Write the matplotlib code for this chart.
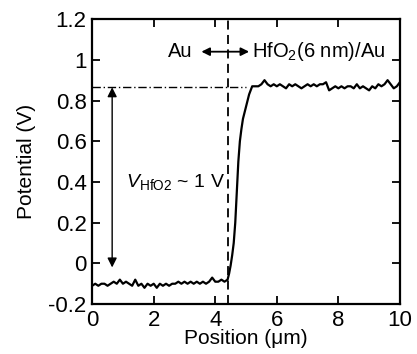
import matplotlib
matplotlib.use("Agg")
import matplotlib.pyplot as plt

plt.rcParams['font.family'] = ['Liberation Sans', 'DejaVu Sans']
plt.rcParams['mathtext.fontset'] = 'custom'
plt.rcParams['mathtext.rm'] = 'Liberation Sans'
plt.rcParams['mathtext.it'] = 'Liberation Sans:italic'

# potential profile
pos = [0.0, 0.1, 0.2, 0.3, 0.4, 0.5, 0.6, 0.7, 0.8, 0.9,
       1.0, 1.1, 1.2, 1.3, 1.4, 1.5, 1.6, 1.7, 1.8, 1.9,
       2.0, 2.1, 2.2, 2.3, 2.4, 2.5, 2.6, 2.7, 2.8, 2.9,
       3.0, 3.1, 3.2, 3.3, 3.4, 3.5, 3.6, 3.7, 3.8, 3.9,
       4.0, 4.1, 4.2, 4.3, 4.4, 4.45, 4.5, 4.55, 4.6, 4.65,
       4.7, 4.75, 4.8, 4.85, 4.9, 5.0, 5.1, 5.2, 5.3, 5.4,
       5.5, 5.6, 5.7, 5.8, 5.9, 6.0, 6.1, 6.2, 6.3, 6.4,
       6.5, 6.6, 6.7, 6.8, 6.9, 7.0, 7.1, 7.2, 7.3, 7.4,
       7.5, 7.6, 7.7, 7.8, 7.9, 8.0, 8.1, 8.2, 8.3, 8.4,
       8.5, 8.6, 8.7, 8.8, 8.9, 9.0, 9.1, 9.2, 9.3, 9.4,
       9.5, 9.6, 9.7, 9.8, 9.9, 10.0]
pot = [-0.11, -0.10, -0.11, -0.10, -0.10, -0.11, -0.10, -0.09, -0.10, -0.08,
       -0.10, -0.09, -0.10, -0.11, -0.08, -0.11, -0.10, -0.12, -0.10, -0.11,
       -0.10, -0.12, -0.10, -0.11, -0.10, -0.11, -0.10, -0.10, -0.09, -0.10,
       -0.09, -0.10, -0.09, -0.10, -0.09, -0.10, -0.09, -0.10, -0.09, -0.07,
       -0.09, -0.09, -0.08, -0.09, -0.08, -0.05, -0.01, 0.04, 0.10, 0.20,
       0.35, 0.50, 0.60, 0.66, 0.71, 0.77, 0.83, 0.87, 0.87, 0.87,
       0.88, 0.90, 0.88, 0.87, 0.88, 0.87, 0.88, 0.87, 0.86, 0.88,
       0.87, 0.88, 0.87, 0.86, 0.87, 0.88, 0.87, 0.88, 0.87, 0.88,
       0.88, 0.89, 0.85, 0.86, 0.87, 0.86, 0.87, 0.86, 0.87, 0.87,
       0.86, 0.88, 0.86, 0.87, 0.86, 0.85, 0.87, 0.86, 0.88, 0.87,
       0.88, 0.90, 0.88, 0.86, 0.87, 0.89]

boundary = 4.4
level = 0.865
xticks = [0, 2, 4, 6, 8, 10]
yticks = [-0.2, 0, 0.2, 0.4, 0.6, 0.8, 1.0, 1.2]
ylabels = ['-0.2', '0', '0.2', '0.4', '0.6', '0.8', '1', '1.2']

fig = plt.figure(figsize=(4.17, 3.54), dpi=100)
ax = fig.add_axes([0.221, 0.141, 0.738, 0.805])

ax.plot(pos, pot, color='black', lw=1.6)
ax.axvline(boundary, color='black', lw=1.3, ls=(0, (5, 3)))
ax.plot([0, 5.0], [level, level], color='black', lw=1.0, ls=(0, (6, 2, 1, 2)))

ax.annotate('', xy=(0.65, -0.02), xytext=(0.65, level),
            arrowprops=dict(arrowstyle='<|-|>', color='black', lw=1.0,
                            mutation_scale=14, shrinkA=0, shrinkB=0))
ax.text(1.1, 0.4, r'$\it{V}$$_{\rm HfO2}$ ~ 1 V', fontsize=14, va='center')

ax.annotate('', xy=(3.55, 1.04), xytext=(5.1, 1.04),
            arrowprops=dict(arrowstyle='<|-|>', color='black', lw=1.3,
                            mutation_scale=12, shrinkA=0, shrinkB=0))
ax.text(3.25, 1.04, 'Au', fontsize=14.5, ha='right', va='center')
ax.text(5.2, 1.04, r'HfO$_2$(6 nm)/Au', fontsize=14.5, ha='left', va='center')

ax.set_xlim(0, 10)
ax.set_ylim(-0.2, 1.2)
ax.set_xticks(xticks)
ax.set_yticks(yticks)
ax.set_yticklabels(ylabels)
ax.tick_params(direction='in', top=True, right=True, length=6, width=1.3,
               labelsize=16, pad=4)
for s in ax.spines.values():
    s.set_linewidth(1.6)
ax.set_xlabel('Position (\u03bcm)', fontsize=15, labelpad=-1)
ax.set_ylabel('Potential (V)', fontsize=15, labelpad=9)

fig.savefig('out.png', dpi=100)
